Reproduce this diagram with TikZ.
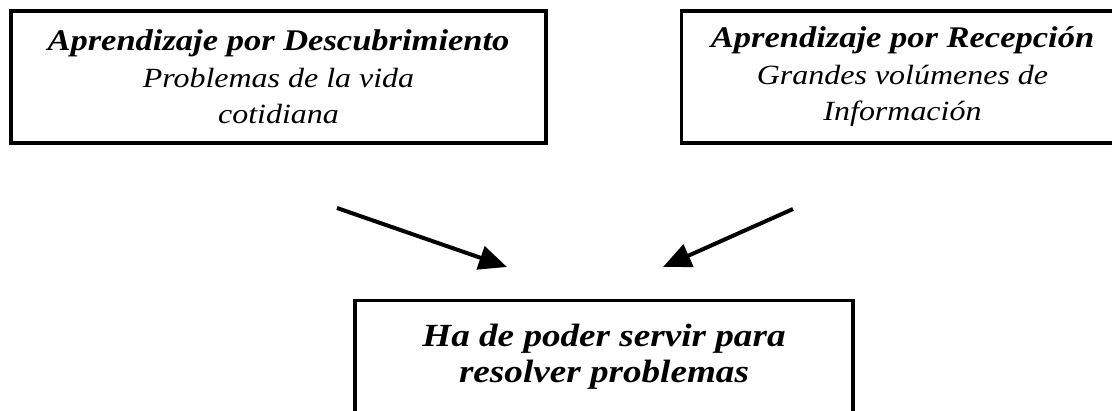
\documentclass[tikz,border=0pt]{standalone}
\usepackage{fontspec}
\setmainfont{Liberation Serif}[FakeStretch=1.15]
\usetikzlibrary{arrows.meta}
\usetikzlibrary{positioning}

\begin{document}
\begin{tikzpicture}[x=0.5bp,y=-0.5bp,node distance=66bp,>={Triangle[length=14bp,width=12bp]},
  caja/.style={draw,line width=1.75bp,align=center,minimum height=66bp,inner sep=0pt},
  texto/.style={font=\fontsize{13.9bp}{18.25bp}\selectfont\itshape},
  flecha/.style={->,line width=2bp}]
%\path[use as bounding box] (0,0) rectangle (1112,411);
\useasboundingbox (0,0) rectangle (1112,411);
\clip (0,0) rectangle (1112,411);
\path node[caja,texto,minimum width=267.5bp] (desc) at (278.5,77) {{\fontsize{15bp}{18.25bp}\selectfont\bfseries Aprendizaje por Descubrimiento}\\Problemas de la vida\\cotidiana};
\path node[caja,texto,minimum width=221bp,right =of desc] (recep) {{\fontsize{15bp}{18.25bp}\selectfont\bfseries Aprendizaje por Recepción}\\Grandes volúmenes de\\Información};
\path node[caja,anchor=north,minimum width=249bp,inner ysep=11.85bp,text depth=40bp,font=\fontsize{16.15bp}{18bp}\selectfont\bfseries\itshape] (resol) at (604,299) {Ha de poder servir para\\resolver problemas};
\coordinate (d1) at (337,208);
\coordinate (d2) at (507,267);
\coordinate (r1) at (793,209);
\coordinate (r2) at (663,267);
\path[flecha] (d1) edge (d2);
\path[flecha] (r1) edge (r2);
\end{tikzpicture}
\end{document}
